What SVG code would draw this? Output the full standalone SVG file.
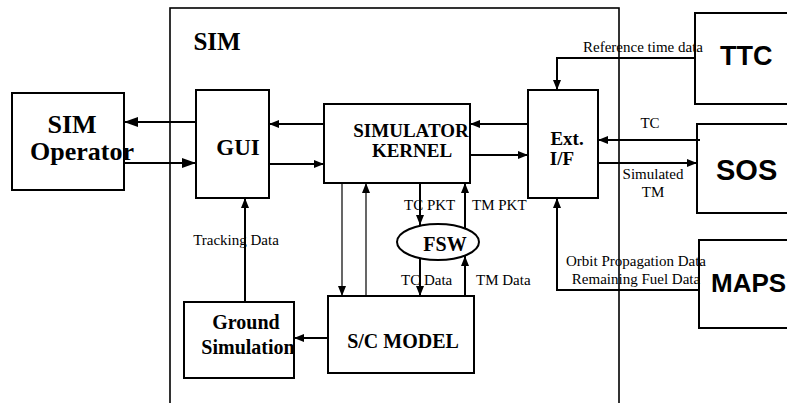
<svg xmlns="http://www.w3.org/2000/svg" width="787" height="403" viewBox="0 0 787 403">
<style>
.box{fill:none;stroke:#000;stroke-width:2}
.frame{fill:none;stroke:#000;stroke-width:1.6}
.t{font-family:"Liberation Serif","Times New Roman",serif;font-weight:bold;fill:#000;text-anchor:middle}
.s{font-family:"Liberation Sans",Arial,sans-serif;font-weight:bold;fill:#000}
.l{font-family:"Liberation Serif","Times New Roman",serif;font-size:15px;fill:#000}
.c{fill:none;stroke:#000;stroke-width:2}
.thin{fill:none;stroke:#000;stroke-width:1.2}
</style>
<defs>
<marker id="ah" viewBox="0 0 10 8" refX="10" refY="4" markerWidth="10" markerHeight="8" orient="auto" markerUnits="userSpaceOnUse"><path d="M0,0 L10,4 L0,8 z" fill="#000"/></marker>
<marker id="ahl" viewBox="0 0 14 10" refX="14" refY="5" markerWidth="14" markerHeight="10" orient="auto" markerUnits="userSpaceOnUse"><path d="M0,0 L14,5 L0,10 z" fill="#000"/></marker>
</defs>
<rect width="787" height="403" fill="#fff"/>
<g id="sim-frame">
<rect class="frame" x="170" y="8" width="449" height="410"/>
<text class="t" x="217" y="50" font-size="25">SIM</text>
</g>
<g id="sim-operator">
<rect class="box" x="12" y="93" width="112" height="97"/>
<text class="t" x="72" y="133" font-size="26">SIM</text>
<text class="t" x="82" y="160" font-size="26">Operator</text>
</g>
<g id="gui">
<rect class="box" x="196" y="90" width="73" height="108"/>
<text class="t" x="238" y="155" font-size="23">GUI</text>
</g>
<g id="kernel">
<rect class="box" x="324" y="104" width="146" height="79"/>
<text class="t" x="411" y="137" font-size="19">SIMULATOR</text>
<text class="t" x="412" y="157" font-size="19">KERNEL</text>
</g>
<g id="ext-if">
<rect class="box" x="528" y="90" width="70" height="108"/>
<text class="t" x="567" y="145" font-size="19">Ext.</text>
<text class="t" x="562" y="165" font-size="19">I/F</text>
</g>
<g id="ttc">
<rect class="box" x="695" y="13" width="100" height="91"/>
<text class="s" x="720" y="65" font-size="27">TTC</text>
</g>
<g id="sos">
<rect class="box" x="697" y="124" width="100" height="89"/>
<text class="s" x="716" y="180" font-size="29">SOS</text>
</g>
<g id="maps">
<rect class="box" x="699" y="240" width="100" height="88"/>
<text class="s" x="711" y="292" font-size="26">MAPS</text>
</g>
<g id="fsw">
<ellipse cx="438" cy="242" rx="41" ry="18" fill="none" stroke="#000" stroke-width="2"/>
<text class="t" x="445" y="251" font-size="20">FSW</text>
</g>
<g id="sc-model">
<rect class="box" x="328" y="296" width="146" height="77"/>
<text class="t" x="403" y="348" font-size="20">S/C MODEL</text>
</g>
<g id="ground-sim">
<rect class="box" x="184" y="302" width="110" height="76"/>
<text class="t" x="246" y="329" font-size="20">Ground</text>
<text class="t" x="248" y="354" font-size="20">Simulation</text>
</g>
<g id="connectors">
<path class="c" d="M196,122 H124" marker-end="url(#ahl)"/>
<path class="c" d="M124,163 H196" marker-end="url(#ahl)"/>
<path class="c" d="M324,124 H269" marker-end="url(#ah)"/>
<path class="c" d="M269,164 H324" marker-end="url(#ah)"/>
<path class="c" d="M528,124 H470" marker-end="url(#ah)"/>
<path class="c" d="M470,155 H528" marker-end="url(#ah)"/>
<path class="c" d="M695,58 H557 V90" marker-end="url(#ah)"/>
<path class="c" d="M700,140 H598" marker-end="url(#ah)"/>
<path class="c" d="M598,163 H697" marker-end="url(#ah)"/>
<path class="c" d="M699,290 H557 V198" marker-end="url(#ah)"/>
<path class="thin" d="M342,183 V296" marker-end="url(#ah)"/>
<path class="thin" d="M366,296 V183" marker-end="url(#ah)"/>
<path class="c" d="M420,183 V225" marker-end="url(#ah)"/>
<path class="c" d="M465,229 V183" marker-end="url(#ah)"/>
<path class="c" d="M420,258 V296" marker-end="url(#ah)"/>
<path class="c" d="M465,296 V256" marker-end="url(#ah)"/>
<path class="c" d="M328,338 H294" marker-end="url(#ah)"/>
<path class="c" d="M245,302 V198" marker-end="url(#ah)"/>
<text class="l" x="643" y="52" text-anchor="middle">Reference time data</text>
<text class="l" x="650" y="128" text-anchor="middle">TC</text>
<text class="l" x="653" y="179" text-anchor="middle">Simulated</text>
<text class="l" x="653" y="197" text-anchor="middle">TM</text>
<text class="l" x="636" y="266" text-anchor="middle">Orbit Propagation Data</text>
<text class="l" x="636" y="284" text-anchor="middle">Remaining Fuel Data</text>
<text class="l" x="236" y="245" text-anchor="middle">Tracking Data</text>
<text class="l" x="404" y="210">TC PKT</text>
<text class="l" x="472" y="210">TM PKT</text>
<text class="l" x="401" y="285">TC Data</text>
<text class="l" x="476" y="285">TM Data</text>
</g>
</svg>
